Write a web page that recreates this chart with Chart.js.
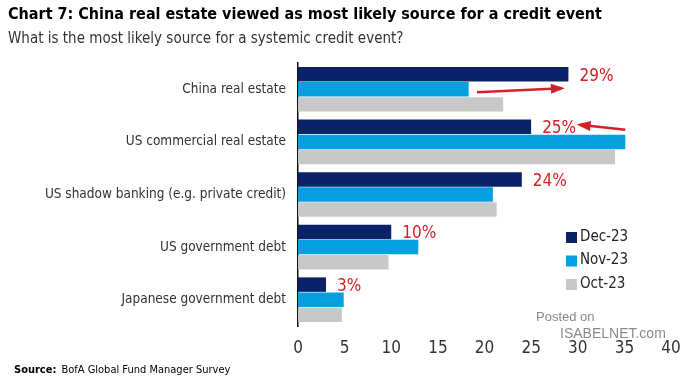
<!DOCTYPE html>
<html>
<head>
<meta charset="utf-8">
<script src="https://cdn.jsdelivr.net/npm/chart.js@4.4.1/dist/chart.umd.min.js"></script>
<style>
  html, body { margin: 0; padding: 0; background: #fff; }
  #wrap { width: 700px; height: 390px; }
</style>
</head>
<body>
<div id="wrap"><canvas id="chart" width="700" height="390"></canvas></div>
<script>
// Data
const categories = [
    "China real estate",
    "US commercial real estate",
    "US shadow banking (e.g. private credit)",
    "US government debt",
    "Japanese government debt"
];
const dec23 = [29, 25, 24, 10, 3];
const nov23 = [18.3, 35.1, 20.9, 12.9, 4.9];
const oct23 = [22.0, 34.0, 21.3, 9.7, 4.7];
const xTicks = [0, 5, 10, 15, 20, 25, 30, 35, 40];

const FONT = '"DejaVu Sans Condensed", "DejaVu Sans", sans-serif';
const RED = "#d42027";

// Title, legend, labels, arrows
const overlay = {
    id: "overlay",
    afterDraw(chart) {
        const ctx = chart.ctx;
        const xs = chart.scales.x;
        ctx.save();
        ctx.textBaseline = "middle";
        ctx.textAlign = "left";

        ctx.fillStyle = "#000";
        ctx.font = "bold 16px " + FONT;
        ctx.fillText("Chart 7: China real estate viewed as most likely source for a credit event", 8, 15);
        ctx.fillStyle = "#333";
        ctx.font = "15px " + FONT;
        ctx.fillText("What is the most likely source for a systemic credit event?", 8, 39);

        // source
        ctx.fillStyle = "#000";
        ctx.font = "bold 11px " + FONT;
        ctx.fillText("Source:", 14, 370);
        const w = ctx.measureText("Source:").width;
        ctx.font = "11px " + FONT;
        ctx.fillText("BofA Global Fund Manager Survey", 14 + w + 5, 370);

        // watermark
        ctx.fillStyle = "#8a8a8a";
        ctx.font = "13px Arial, sans-serif";
        ctx.fillText("Posted on", 536, 317);
        ctx.font = "14px Arial, sans-serif";
        ctx.fillText("ISABELNET.com", 560, 334);

        // legend
        chart.data.datasets.forEach((ds, i) => {
            const y = 237 + i * 23.5;
            ctx.fillStyle = ds.backgroundColor;
            ctx.fillRect(566, y - 5, 11, 11);
            ctx.fillStyle = "#222";
            ctx.font = "15px " + FONT;
            ctx.fillText(ds.label, 580, y);
        });

        // red value labels on Dec-23 bars
        const meta = chart.getDatasetMeta(0);
        ctx.fillStyle = RED;
        ctx.font = "17px " + FONT;
        meta.data.forEach((bar, j) => {
            ctx.fillText(Math.round(dec23[j]) + "%", bar.x + 11, bar.y + 2);
        });

        // arrows
        const nov = chart.getDatasetMeta(1).data;
        const arrow = (x1, y1, x2, y2) => {
            ctx.strokeStyle = RED;
            ctx.fillStyle = RED;
            ctx.lineWidth = 2.5;
            ctx.beginPath();
            ctx.moveTo(x1, y1);
            ctx.lineTo(x2, y2);
            ctx.stroke();
            const a = Math.atan2(y2 - y1, x2 - x1);
            ctx.beginPath();
            ctx.moveTo(x2 + 3 * Math.cos(a), y2 + 3 * Math.sin(a));
            ctx.lineTo(x2 - 11 * Math.cos(a) + 5 * Math.sin(a), y2 - 11 * Math.sin(a) - 5 * Math.cos(a));
            ctx.lineTo(x2 - 11 * Math.cos(a) - 5 * Math.sin(a), y2 - 11 * Math.sin(a) + 5 * Math.cos(a));
            ctx.closePath();
            ctx.fill();
        };
        arrow(xs.getPixelForValue(19.2), nov[0].y + 3, xs.getPixelForValue(28.3), nov[0].y - 1);
        arrow(xs.getPixelForValue(35.1), meta.data[1].y + 3, xs.getPixelForValue(30.2), meta.data[1].y - 2);

        ctx.restore();
    }
};

const chart = new Chart(document.getElementById("chart"), {
    type: "bar",
    data: {
        labels: categories,
        datasets: [
            { label: "Dec-23", data: dec23, backgroundColor: "#0b2268" },
            { label: "Nov-23", data: nov23, backgroundColor: "#06a0e0" },
            { label: "Oct-23", data: oct23, backgroundColor: "#c8c8c8" }
        ]
    },
    options: {
        indexAxis: "y",
        responsive: false,
        animation: false,
        devicePixelRatio: 1,
        layout: { padding: { top: 63, right: 29, bottom: 26, left: 0 } },
        datasets: { bar: { categoryPercentage: 0.86, barPercentage: 0.96 } },
        plugins: {
            legend: { display: false },
            title: { display: false },
            tooltip: { enabled: false }
        },
        scales: {
            x: {
                min: 0,
                max: 40,
                afterBuildTicks: (axis) => { axis.ticks = xTicks.map(v => ({ value: v })); },
                afterFit: (axis) => { axis.height = 38; },
                grid: { display: false, drawTicks: false },
                border: { display: false },
                ticks: { color: "#333", padding: 12, font: { family: FONT, size: 17 } }
            },
            y: {
                afterFit: (axis) => { axis.width = 298; },
                grid: { display: false, drawTicks: false },
                border: { display: true, color: "#111", width: 1.5 },
                ticks: { color: "#333", padding: 12, font: { family: FONT, size: 13.5 } }
            }
        }
    },
    plugins: [overlay]
});
</script>
</body>
</html>
